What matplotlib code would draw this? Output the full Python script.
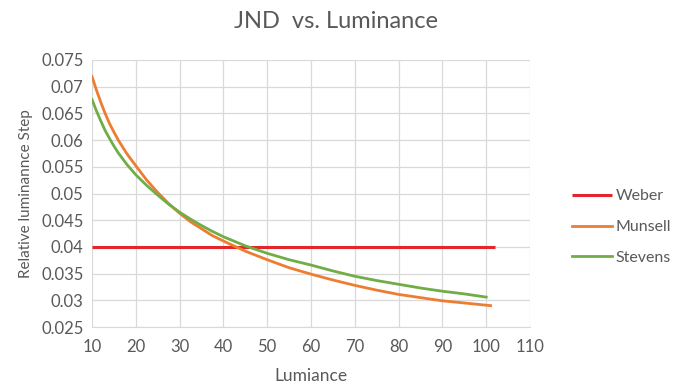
import matplotlib
matplotlib.use("Agg")
import matplotlib.pyplot as plt

plt.rcParams['font.family'] = ['Lato', 'DejaVu Sans']

# JND curves: relative luminance step vs. luminance
weber_x = [10, 102]
weber_y = [0.04, 0.04]

munsell_x = [10, 11, 12, 13, 14, 15, 16, 18, 20, 22.5, 25, 27.5, 30, 32.5, 35, 37.5, 40,
             45, 50, 55, 60, 65, 70, 75, 80, 85, 90, 95, 101]
munsell_y = [0.0719, 0.0694, 0.0671, 0.0650, 0.0631, 0.0615, 0.0600, 0.0574, 0.0552, 0.0525,
             0.0502, 0.0481, 0.0463, 0.0447, 0.0434, 0.0421, 0.0411,
             0.0392, 0.0376, 0.0361, 0.0349, 0.0338, 0.0328, 0.0319, 0.0311, 0.0305, 0.0299,
             0.0295, 0.0290]

stevens_x = [10, 11, 12, 13, 14, 15, 16, 18, 20, 22.5, 25, 27.5, 30, 32.5, 35, 37.5, 40,
             45, 50, 55, 60, 65, 70, 75, 80, 85, 90, 95, 100]
stevens_y = [0.0676, 0.0655, 0.0636, 0.0618, 0.0603, 0.0589, 0.0576, 0.0554, 0.0535, 0.0515,
             0.0497, 0.0480, 0.0465, 0.0452, 0.0440, 0.0429, 0.0419,
             0.0402, 0.0388, 0.0376, 0.0366, 0.0355, 0.0345, 0.0337, 0.0330, 0.0323, 0.0317,
             0.0312, 0.0306]

x_ticks = list(range(10, 111, 10))
y_ticks = [0.025, 0.03, 0.035, 0.04, 0.045, 0.05, 0.055, 0.06, 0.065, 0.07, 0.075]
y_tick_labels = ['0.025', '0.03', '0.035', '0.04', '0.045', '0.05', '0.055', '0.06', '0.065', '0.07', '0.075']

text_grey = '#595959'
grid_grey = '#d9d9d9'

fig = plt.figure(figsize=(6.75, 3.89), dpi=100)
ax = fig.add_axes([92 / 675, 1 - 327 / 389, (530 - 92) / 675, (327 - 60) / 389])

ax.plot(weber_x, weber_y, color='#e2262b', lw=2.2, label='Weber', solid_capstyle='butt')
ax.plot(munsell_x, munsell_y, color='#ed7d31', lw=2.0, label='Munsell')
ax.plot(stevens_x, stevens_y, color='#70ad47', lw=2.0, label='Stevens')

ax.set_xlim(10, 110)
ax.set_ylim(0.025, 0.075)
ax.set_xticks(x_ticks)
ax.set_yticks(y_ticks)
ax.set_yticklabels(y_tick_labels)
ax.grid(True, color=grid_grey, lw=0.9)
ax.set_axisbelow(True)
for side in ['top', 'right', 'left']:
    ax.spines[side].set_visible(False)
ax.spines['bottom'].set_color(grid_grey)
ax.tick_params(length=0, labelsize=12, labelcolor=text_grey)
ax.tick_params(axis='x', pad=9)
ax.tick_params(axis='y', pad=6)

ax.set_xlabel('Lumiance', fontsize=12.5, color=text_grey, labelpad=9)
ax.set_ylabel('Relative luminannce Step', fontsize=11, color=text_grey, labelpad=6)
fig.text(336 / 675, 1 - 21 / 389, 'JND  vs. Luminance', fontsize=17, color=text_grey,
         ha='center', va='center')

fig.legend(loc='center left', bbox_to_anchor=(572 / 675, 1 - 227 / 389), frameon=False,
           fontsize=11.5, handlelength=2.5, labelspacing=1.05, handletextpad=0.25,
           borderpad=0, borderaxespad=0, labelcolor=text_grey)

fig.savefig('out.png', dpi=100)
